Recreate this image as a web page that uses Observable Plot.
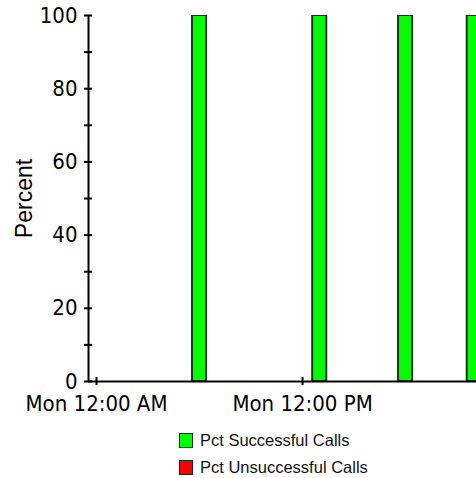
<!DOCTYPE html>
<html>
<head>
<meta charset="utf-8">
<script src="https://cdn.jsdelivr.net/npm/d3@7"></script>
<script src="https://cdn.jsdelivr.net/npm/@observablehq/plot@0.6"></script>
<style>
  html, body { margin: 0; padding: 0; background: #fff; width: 476px; height: 478px; overflow: hidden; }
  #chart svg { display: block; }
  .legend { font-family: "Liberation Sans", Arial, sans-serif; font-size: 16.5px; color: #111; padding-left: 179px; margin-top: 7px; }
  .legend .row { display: flex; align-items: center; height: 27px; }
  .legend .sw { width: 12px; height: 13px; border: 1.5px solid #222; margin-right: 7px; }
</style>
</head>
<body>
<div id="chart"></div>
<script>
// Data (hours after Monday 12:00 AM)
const hours = [6, 13, 18, 22];
const pctSuccessful = [100, 100, 100, 100];
const pctUnsuccessful = [0, 0, 0, 0];
const seriesNames = ["Pct Successful Calls", "Pct Unsuccessful Calls"];
const seriesColors = ["#00ff00", "#ff0000"];
const yTickLabels = [0, 20, 40, 60, 80, 100];
const yMinorTicks = [0, 10, 20, 30, 40, 50, 60, 70, 80, 90, 100];
const xTickHours = [0, 12];

const base = new Date(2024, 0, 1, 0, 0, 0); // a Monday
const H = 3600 * 1000;
const at = h => new Date(base.getTime() + h * H);
const halfBar = 0.41;

const rows = [];
hours.forEach((h, i) => {
  if (pctSuccessful[i] > 0) rows.push({x1: at(h - halfBar), x2: at(h + halfBar), y: pctSuccessful[i], s: seriesNames[0]});
  if (pctUnsuccessful[i] > 0) rows.push({x1: at(h - halfBar), x2: at(h + halfBar), y: pctUnsuccessful[i], s: seriesNames[1]});
});

const xDomain = [at(-0.466), at(22.13)];
const fmt = d => "Mon " + d3.timeFormat("%-I:%M %p")(d);
const tickFont = '"Liberation Sans Narrow", "DejaVu Sans Condensed", Arial, sans-serif';

const plot = Plot.plot({
  width: 476,
  height: 420,
  marginLeft: 88,
  marginRight: 0,
  marginTop: 15,
  marginBottom: 39,
  style: { fontFamily: tickFont, fontSize: "22px", color: "#000", background: "#fff" },
  x: { type: "time", domain: xDomain, axis: null },
  y: { domain: [0, 100], axis: null },
  color: { domain: seriesNames, range: seriesColors },
  marks: [
    Plot.rectY(rows, { x1: "x1", x2: "x2", y: "y", fill: "s", stroke: "#2a2a2a", strokeWidth: 2, clip: true }),
    Plot.ruleY([0], { stroke: "#000", strokeWidth: 2 }),
    Plot.ruleX([xDomain[0]], { stroke: "#000", strokeWidth: 2 }),
    // y ticks crossing the axis
    Plot.axisY({ ticks: yMinorTicks, tickSize: 8, dx: 4, tickFormat: () => "", label: null, strokeWidth: 2 }),
    // y tick labels
    Plot.axisY({ ticks: yTickLabels, tickSize: 0, tickPadding: 11, tickFormat: d => String(d), label: null, fontSize: 22 }),
    // x ticks crossing the axis
    Plot.axisX({ ticks: xTickHours.map(at), tickSize: 8, dy: -4, tickFormat: () => "", label: null, strokeWidth: 2 }),
    // x tick labels
    Plot.axisX({ ticks: xTickHours.map(at), tickSize: 0, tickPadding: 14, tickFormat: fmt, label: null, fontSize: 22 }),
    Plot.text(["Percent"], { frameAnchor: "left", dx: -64, rotate: -90, textAnchor: "middle", fontFamily: '"Liberation Sans", Arial, sans-serif', fontSize: 23, fill: "#000" })
  ]
});
document.getElementById("chart").appendChild(plot);

const legend = document.createElement("div");
legend.className = "legend";
seriesNames.forEach((n, i) => {
  const r = document.createElement("div");
  r.className = "row";
  const sw = document.createElement("span");
  sw.className = "sw";
  sw.style.background = seriesColors[i];
  const t = document.createElement("span");
  t.textContent = n;
  r.appendChild(sw); r.appendChild(t);
  legend.appendChild(r);
});
document.body.appendChild(legend);
</script>
</body>
</html>
